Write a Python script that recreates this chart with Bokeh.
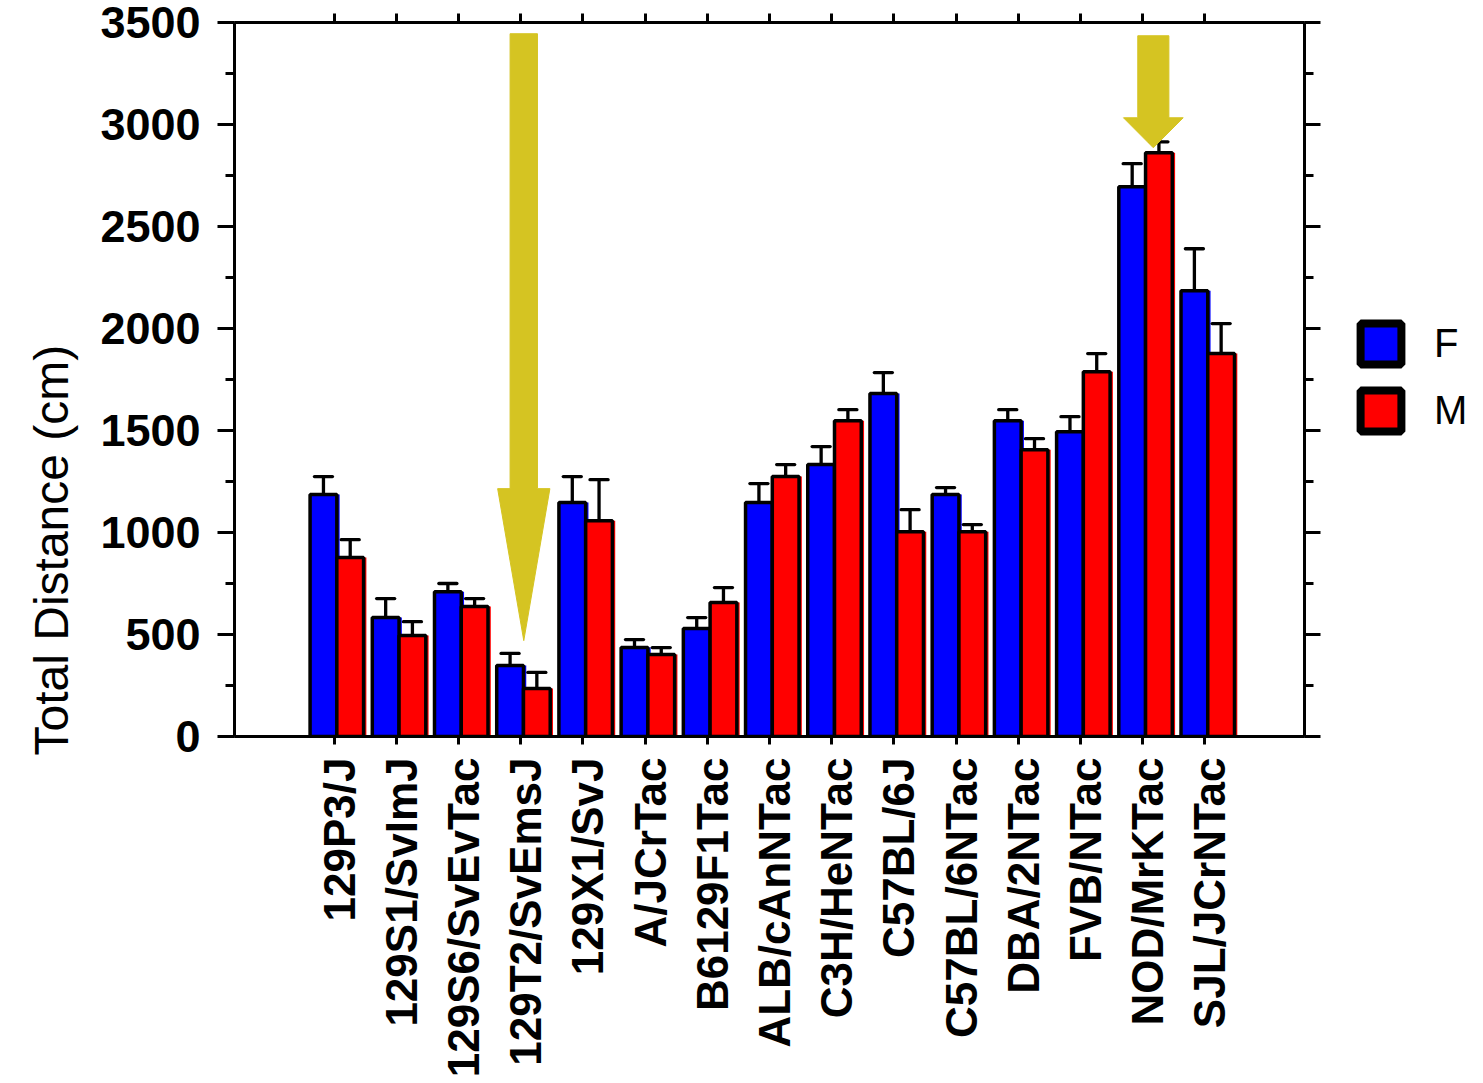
import numpy as np
from bokeh.plotting import figure
from bokeh.layouts import row
from bokeh.models import (ColumnDataSource, Range1d, LinearAxis,
                          SingleIntervalTicker, FixedTicker, Legend, LegendItem, Title)
from bokeh.embed import file_html
from bokeh.resources import INLINE

# ---------------- data ----------------
strains = ["129P3/J", "129S1/SvImJ", "129S6/SvEvTac", "129T2/SvEmsJ", "129X1/SvJ",
           "A/JCrTac", "B6129F1Tac", "ALB/cAnNTac", "C3H/HeNTac", "C57BL/6J",
           "C57BL/6NTac", "DBA/2NTac", "FVB/NTac", "NOD/MrKTac", "SJL/JCrNTac"]
female = [1186, 583, 710, 348, 1147, 436, 529, 1147, 1333, 1681, 1186, 1548, 1494, 2695, 2185]
female_sem = [88, 93, 40, 59, 127, 39, 54, 93, 88, 103, 34, 54, 74, 113, 206]
male = [877, 495, 637, 235, 1058, 402, 657, 1274, 1548, 1004, 1004, 1406, 1788, 2861, 1877]
male_sem = [88, 68, 39, 79, 201, 34, 73, 59, 54, 108, 35, 54, 89, 54, 147]
y_ticks_interval = 500
y_max = 3500
series_labels = ["F", "M"]
y_title = "Total Distance (cm)"

# highlighted strains (arrows): tip value, tail value, head-base value
arrow_strain = ["129T2/SvEmsJ", "NOD/MrKTac"]
arrow_tip = [470, 2886]
arrow_tail = [3445, 3435]
arrow_head_base = [1215, 3033]

# ---------------- styling ----------------
FONT = "Liberation Sans"
BLUE = "#0000FF"
RED = "#FF0000"
ARROW = "#D5C422"
F_OFF, M_OFF, BAR_W = -0.17, 0.26, 0.43
SHADOW = 0.045
CAP = 0.145
PAD = 1.6
LABEL_SHIFT = 0.08

n = len(strains)
idx = list(range(n))
src = ColumnDataSource(dict(
    strain=strains,
    xf=[i + F_OFF for i in idx],
    xm=[i + M_OFF for i in idx],
    xfs=[i + F_OFF + SHADOW for i in idx],
    xms=[i + M_OFF + SHADOW for i in idx],
    xf0=[i + F_OFF - CAP for i in idx],
    xf1=[i + F_OFF + CAP for i in idx],
    xm0=[i + M_OFF - CAP for i in idx],
    xm1=[i + M_OFF + CAP for i in idx],
    female=female,
    male=male,
    f_hi=[v + e for v, e in zip(female, female_sem)],
    m_hi=[v + e for v, e in zip(male, male_sem)],
))

xr = Range1d(-PAD, n - 1 + PAD)
yr = Range1d(0, y_max)

W, H = 1330, 1080
FRAME_TOP, FRAME_BOTTOM = 22, 736
p = figure(x_range=xr, y_range=yr, width=W, height=H,
           output_backend="svg", toolbar_location=None,
           x_axis_location=None, y_axis_location=None,
           min_border_left=234, min_border_right=W - 1304, min_border_top=FRAME_TOP,
           min_border_bottom=H - FRAME_BOTTOM)
p.outline_line_color = None
p.grid.visible = False
p.background_fill_color = "white"
p.border_fill_color = "white"
# same span, shifted slightly, for the category-name axis so names sit on the bar pairs
p.extra_x_ranges = {"lab": Range1d(-PAD - LABEL_SHIFT, n - 1 + PAD - LABEL_SHIFT)}


def style_axis(ax, tick_out, minor_out=0):
    ax.axis_line_width = 3
    ax.axis_line_color = "black"
    ax.major_tick_line_width = 3
    ax.major_tick_line_color = "black"
    ax.major_tick_in = 0
    ax.major_tick_out = tick_out
    ax.minor_tick_line_width = 3
    ax.minor_tick_line_color = "black"
    ax.minor_tick_in = 0
    ax.minor_tick_out = minor_out


def hide_labels(ax, standoff=0):
    ax.major_label_text_font_size = "0px"
    ax.major_label_text_color = None
    ax.major_label_standoff = standoff


left = LinearAxis(ticker=SingleIntervalTicker(interval=y_ticks_interval, num_minor_ticks=2))
style_axis(left, 17, 9)
left.major_label_text_font = FONT
left.major_label_text_font_style = "bold"
left.major_label_text_font_size = "45px"
left.major_label_text_color = "black"
left.major_label_standoff = 17
p.add_layout(left, "left")

p.add_layout(Title(text=y_title, align="left", offset=-19, standoff=40,
                   text_font=FONT, text_font_style="normal", text_font_size="48px",
                   text_color="black"), "left")

right = LinearAxis(ticker=SingleIntervalTicker(interval=y_ticks_interval, num_minor_ticks=2))
style_axis(right, 16, 9)
hide_labels(right)
p.add_layout(right, "right")

bottom = LinearAxis(ticker=FixedTicker(ticks=idx, minor_ticks=[]))
style_axis(bottom, 8)
hide_labels(bottom)
p.add_layout(bottom, "below")

names = LinearAxis(x_range_name="lab", ticker=FixedTicker(ticks=idx, minor_ticks=[]),
                   major_label_overrides={i: s for i, s in enumerate(strains)})
names.axis_line_color = None
names.major_tick_line_color = None
names.minor_tick_line_color = None
names.major_tick_out = 0
names.major_tick_in = 0
names.major_label_orientation = np.pi / 2
names.major_label_standoff = 13
names.major_label_text_font = FONT
names.major_label_text_font_style = "bold"
names.major_label_text_font_size = "44px"
names.major_label_text_color = "black"
p.add_layout(names, "below")

top = LinearAxis(ticker=FixedTicker(ticks=idx, minor_ticks=[]))
style_axis(top, 9)
hide_labels(top)
p.add_layout(top, "above")

# fill "shadows" (slight offset of the fill behind the outlined bars)
p.vbar(x="xfs", top="female", width=BAR_W, source=src, fill_color=BLUE, line_color=None)
p.vbar(x="xms", top="male", width=BAR_W, source=src, fill_color=RED, line_color=None)

# error bars (upper only)
for xc, x0, x1, lo, hi in [("xf", "xf0", "xf1", "female", "f_hi"), ("xm", "xm0", "xm1", "male", "m_hi")]:
    p.segment(x0=xc, y0=lo, x1=xc, y1=hi, source=src, line_color="black", line_width=3.3)
    p.segment(x0=x0, y0=hi, x1=x1, y1=hi, source=src, line_color="black", line_width=3.3,
              line_cap="round")

# bars
p.vbar(x="xf", top="female", width=BAR_W, source=src, fill_color=BLUE, line_color="black", line_width=3.5)
p.vbar(x="xm", top="male", width=BAR_W, source=src, fill_color=RED, line_color="black", line_width=3.5)

# arrows
arrow_shift = [0.05, 0.17]
shaft_half = [0.22, 0.25]
head_half = [0.42, 0.48]
axs, ays = [], []
for s, tip, tail, base, sh, sw, hw in zip(arrow_strain, arrow_tip, arrow_tail, arrow_head_base,
                                          arrow_shift, shaft_half, head_half):
    cx = strains.index(s) + sh
    axs.append([cx - sw, cx + sw, cx + sw, cx + hw, cx, cx - hw, cx - sw])
    ays.append([tail, tail, base, base, tip, base, base])
p.patches(xs=axs, ys=ays, fill_color=ARROW, line_color=ARROW, line_width=1)

# ---------------- legend strip to the right of the plot ----------------
# (its frame is aligned with the main plot's frame by the row layout)
LW = 150
q = figure(width=LW, height=H, x_range=Range1d(0, LW), y_range=Range1d(0, H),
           output_backend="svg", toolbar_location=None,
           x_axis_location=None, y_axis_location=None,
           min_border_left=0, min_border_right=0, min_border_top=FRAME_TOP,
           min_border_bottom=H - FRAME_BOTTOM)
q.outline_line_color = None
q.grid.visible = False
q.background_fill_color = "white"
q.border_fill_color = "white"
key_f = q.vbar(x="xf", top="female", width=BAR_W, source=src, fill_color=BLUE,
               line_color="black", line_width=8, visible=False)
key_m = q.vbar(x="xm", top="male", width=BAR_W, source=src, fill_color=RED,
               line_color="black", line_width=8, visible=False)
legend = Legend(items=[LegendItem(label=series_labels[0], renderers=[key_f]),
                       LegendItem(label=series_labels[1], renderers=[key_m])],
                location=(1355 - W, FRAME_BOTTOM - 436), glyph_width=51, glyph_height=51,
                label_height=51, spacing=16, padding=0, margin=0, label_standoff=28,
                border_line_color=None, background_fill_alpha=0,
                inactive_fill_alpha=0,
                label_text_font=FONT, label_text_font_size="40px", label_text_color="black")
q.add_layout(legend)

layout = row(p, q, spacing=0)
open("out.html", "w").write(file_html(layout, INLINE))
